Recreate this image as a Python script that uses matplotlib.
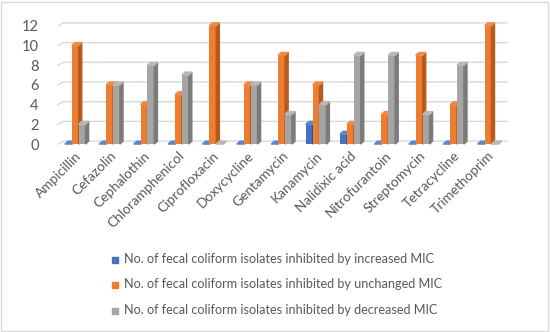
import numpy as np
import matplotlib.pyplot as plt
from matplotlib.patches import Rectangle, Polygon

# data
drugs = ["Ampicillin", "Cefazolin", "Cephalothin", "Chloramphenicol", "Ciprofloxacin",
         "Doxycycline", "Gentamycin", "Kanamycin", "Nalidixic acid", "Nitrofurantoin",
         "Streptomycin", "Tetracycline", "Trimethoprim"]
increased = [0, 0, 0, 0, 0, 0, 0, 2, 1, 0, 0, 0, 0]
unchanged = [10, 6, 4, 5, 12, 6, 9, 6, 2, 3, 9, 4, 12]
decreased = [2, 6, 8, 7, 0, 6, 3, 4, 9, 9, 3, 8, 0]
series_names = ["No. of fecal coliform isolates inhibited by increased MIC",
                "No. of fecal coliform isolates inhibited by unchanged MIC",
                "No. of fecal coliform isolates inhibited by decreased MIC"]

front = ["#4472C4", "#ED7D31", "#A5A5A5"]
side = ["#2F5597", "#B85A1B", "#7B7B7B"]
top = ["#5B86D6", "#F08A45", "#B8B8B8"]
TXT = "#595959"

plt.rcParams["font.family"] = ["Lato", "DejaVu Sans"]

fig = plt.figure(figsize=(5.5, 3.32), dpi=100)
ax = fig.add_axes([0.1055, 0.566, 0.813, 0.371])

x = np.arange(len(drugs))
w = 0.2
dx, dy = 0.09, 0.3

# back wall gridlines with small 3d slant at the left
for g in range(0, 13, 2):
    ax.plot([-0.5, -0.5 + 0.15, 12.55], [g, g + dy, g + dy], color="#D9D9D9",
            lw=1, zorder=0, clip_on=False)

for i, vals in enumerate([increased, unchanged, decreased]):
    xs = x + (i - 1) * w
    ax.bar(xs, vals, width=w, color=front[i], zorder=2)
    for xc, h in zip(xs, vals):
        x0, x1 = xc - w / 2, xc + w / 2
        ax.add_patch(Polygon([(x1, 0), (x1 + dx, dy), (x1 + dx, h + dy), (x1, h)],
                             closed=True, color=side[i], zorder=2, clip_on=False))
        ax.add_patch(Polygon([(x0, h), (x0 + dx, h + dy), (x1 + dx, h + dy), (x1, h)],
                             closed=True, color=top[i], zorder=2, clip_on=False))

ax.set_xlim(-0.5, 12.5)
ax.set_ylim(0, 12.5)
ax.set_yticks(range(0, 13, 2))
ax.set_xticks(x)
ax.set_xticklabels(drugs, rotation=45, ha="right", va="top", rotation_mode="anchor",
                   fontsize=9.8, color=TXT)
ax.tick_params(axis="y", length=0, pad=14, labelsize=10.5, labelcolor=TXT)
ax.tick_params(axis="x", length=0, pad=4)
for s in ax.spines.values():
    s.set_visible(False)

# legend, drawn by hand
for i, name in enumerate(series_names):
    yy = 1 - (259 + i * 25.5) / 332
    fig.patches.append(Rectangle((112 / 550, yy - 0.011), 6 / 550, 6 / 332,
                                 transform=fig.transFigure, color=front[i]))
    fig.text(124 / 550, yy, name, fontsize=9.1, color=TXT, va="center", ha="left")

fig.patches.append(Rectangle((0.002, 0.004), 0.994, 0.99, transform=fig.transFigure,
                             fill=False, edgecolor="#D9D9D9", lw=1))

fig.savefig("out.png", dpi=100)
